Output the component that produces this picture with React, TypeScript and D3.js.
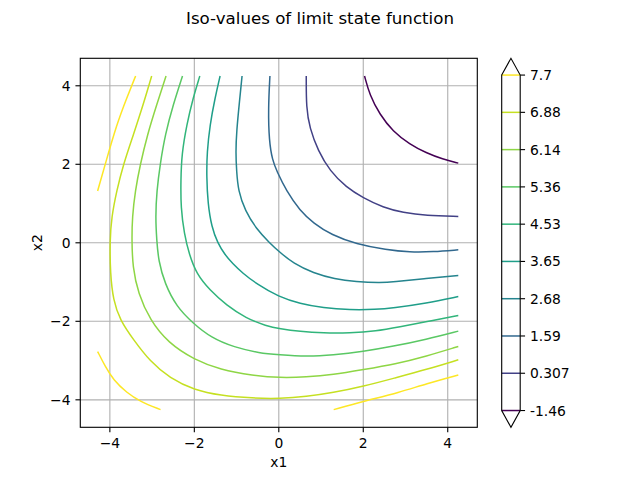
import React from 'react';
import * as d3 from 'd3';

const levels = [-1.46, 0.307, 1.59, 2.68, 3.65, 4.53, 5.36, 6.14, 6.88, 7.7];
const levelLabels = ['-1.46', '0.307', '1.59', '2.68', '3.65', '4.53', '5.36', '6.14', '6.88', '7.7'];
const xTicks = [-4, -2, 0, 2, 4];
const yTicks = [-4, -2, 0, 2, 4];

// Contour lines, as [x1, x2] points
const isoM146 = [[2.03, 4.25], [2.15, 3.77], [2.39, 3.27], [2.7, 2.84], [3.1, 2.51], [3.49, 2.29], [3.88, 2.13], [4.25, 2.03]];
const iso0307 = [[0.65, 4.25], [0.65, 3.43], [0.73, 2.93], [0.93, 2.34], [1.21, 1.83], [1.6, 1.41], [1.99, 1.15], [2.47, 0.9], [2.94, 0.77], [3.49, 0.69], [4.25, 0.67]];
const iso159 = [[-0.21, 4.25], [-0.25, 3.43], [-0.23, 2.59], [-0.15, 2.1], [-0.05, 1.83], [0.18, 1.32], [0.5, 0.82], [0.82, 0.5], [1.25, 0.2], [1.83, -0.03], [2.55, -0.18], [3.1, -0.24], [3.65, -0.23], [4.25, -0.18]];
const iso268 = [[-0.87, 4.25], [-0.93, 3.61], [-1.0, 2.84], [-1.02, 2.3], [-1.0, 1.83], [-0.96, 1.32], [-0.8, 0.82], [-0.53, 0.35], [-0.22, 0.0], [0.0, -0.22], [0.35, -0.53], [0.82, -0.77], [1.32, -0.92], [1.83, -0.99], [2.4, -1.02], [2.7, -1.0], [3.49, -0.91], [4.25, -0.83]];
const iso365 = [[-1.39, 4.25], [-1.51, 3.69], [-1.63, 3.01], [-1.7, 2.3], [-1.71, 1.7], [-1.68, 1.0], [-1.59, 0.4], [-1.45, 0.0], [-1.28, -0.3], [-1.1, -0.52], [-0.85, -0.78], [-0.52, -1.05], [0.0, -1.38], [0.5, -1.55], [1.05, -1.66], [1.68, -1.71], [2.3, -1.7], [2.7, -1.66], [3.49, -1.54], [4.25, -1.37]];
const iso453 = [[-1.87, 4.25], [-2.03, 3.69], [-2.18, 3.01], [-2.3, 2.25], [-2.32, 1.58], [-2.32, 0.9], [-2.24, 0.23], [-2.12, -0.3], [-1.95, -0.79], [-1.63, -1.21], [-1.24, -1.59], [-0.78, -1.92], [-0.29, -2.12], [0.02, -2.19], [0.5, -2.26], [1.05, -2.3], [1.68, -2.3], [2.3, -2.25], [2.86, -2.14], [3.49, -2.01], [4.25, -1.85]];
const iso536 = [[-2.28, 4.25], [-2.5, 3.52], [-2.69, 2.76], [-2.81, 2.0], [-2.89, 1.32], [-2.92, 0.65], [-2.89, 0.06], [-2.85, -0.45], [-2.7, -1.04], [-2.42, -1.63], [-2.04, -2.04], [-1.6, -2.42], [-1.06, -2.66], [-0.45, -2.81], [0.0, -2.85], [0.65, -2.9], [1.28, -2.86], [2.0, -2.77], [2.7, -2.64], [3.49, -2.46], [4.25, -2.25]];
const iso614 = [[-2.67, 4.25], [-2.89, 3.52], [-3.11, 2.76], [-3.28, 2.0], [-3.4, 1.32], [-3.47, 0.65], [-3.48, 0.06], [-3.46, -0.62], [-3.33, -1.29], [-3.05, -1.97], [-2.62, -2.55], [-2.0, -2.98], [-1.39, -3.23], [-0.61, -3.38], [0.02, -3.44], [0.65, -3.42], [1.28, -3.36], [2.0, -3.23], [2.76, -3.09], [3.49, -2.89], [4.25, -2.64]];
const iso688 = [[-3.01, 4.25], [-3.21, 3.52], [-3.44, 2.76], [-3.68, 2.0], [-3.84, 1.32], [-3.96, 0.65], [-4.0, 0.06], [-3.99, -0.79], [-3.92, -1.46], [-3.76, -1.97], [-3.44, -2.47], [-3.05, -3.02], [-2.58, -3.45], [-2.0, -3.75], [-1.39, -3.89], [-0.61, -3.96], [0.02, -3.97], [0.65, -3.92], [1.28, -3.82], [2.0, -3.66], [2.76, -3.44], [3.49, -3.23], [4.25, -2.98]];
const iso77TopLeft = [[-4.29, 1.32], [-4.11, 2.0], [-3.84, 3.01], [-3.6, 3.69], [-3.39, 4.25]];
const iso77BottomLeft = [[-4.29, -2.77], [-4.11, -3.15], [-3.92, -3.49], [-3.6, -3.82], [-3.29, -4.04], [-2.8, -4.25]];
const iso77BottomRight = [[1.3, -4.25], [2.0, -4.04], [2.86, -3.81], [3.49, -3.59], [4.25, -3.37]];

const contourLines = [
  { level: -1.46, pts: isoM146 },
  { level: 0.307, pts: iso0307 },
  { level: 1.59, pts: iso159 },
  { level: 2.68, pts: iso268 },
  { level: 3.65, pts: iso365 },
  { level: 4.53, pts: iso453 },
  { level: 5.36, pts: iso536 },
  { level: 6.14, pts: iso614 },
  { level: 6.88, pts: iso688 },
  { level: 7.7, pts: iso77TopLeft },
  { level: 7.7, pts: iso77BottomLeft },
  { level: 7.7, pts: iso77BottomRight },
];

const W = 640, H = 480;
const left = 80.3, right = 477.3, top = 58.3, bottom = 427.3;
const cbLeft = 501.7, cbRight = 520.2;
const font = 'DejaVu Sans, sans-serif';
const fs = 13.89;

export default function App() {
  const x = d3.scaleLinear().domain([-4.7, 4.7]).range([left, right]);
  const y = d3.scaleLinear().domain([-4.7, 4.7]).range([bottom, top]);
  const color = d3.scaleSequential(d3.interpolateViridis).domain([levels[0], levels[levels.length - 1]]);
  const line = d3.line<number[]>().x(d => x(d[0])).y(d => y(d[1])).curve(d3.curveBasis);

  const extLen = (bottom - top) / 1.1 * 0.05;
  const cbTop = top + extLen, cbBottom = bottom - extLen;
  const cbScale = d3.scalePoint<number>().domain(levels.map((_, i) => i)).range([cbBottom, cbTop]);
  const fmt = (v: number) => (v < 0 ? '\u2212' : '') + Math.abs(v);
  const tick = 4.86;

  return (
    <svg width={W} height={H} style={{ display: 'block', position: 'absolute', left: 0, top: 0 }}>
      <rect width={W} height={H} fill="white" />
      <text x={320} y={24} textAnchor="middle" fontFamily={font} fontSize={16.67}>Iso-values of limit state function</text>
      {/* grid */}
      {xTicks.map(t => (
        <line key={'gx' + t} x1={x(t)} x2={x(t)} y1={top} y2={bottom} stroke="#b0b0b0" strokeWidth={1.11} />
      ))}
      {yTicks.map(t => (
        <line key={'gy' + t} x1={left} x2={right} y1={y(t)} y2={y(t)} stroke="#b0b0b0" strokeWidth={1.11} />
      ))}
      {/* contours */}
      <g fill="none" strokeWidth={1.5}>
        {contourLines.map((c, i) => (
          <path key={'c' + i} d={line(c.pts) || ''} stroke={color(c.level)} />
        ))}
      </g>
      {/* frame */}
      <rect x={left} y={top} width={right - left} height={bottom - top} fill="none" stroke="black" strokeWidth={1.11} />
      {/* x ticks */}
      {xTicks.map(t => (
        <g key={'xt' + t}>
          <line x1={x(t)} x2={x(t)} y1={bottom} y2={bottom + tick} stroke="black" strokeWidth={1.11} />
          <text x={x(t)} y={447.5} textAnchor="middle" fontFamily={font} fontSize={fs}>{fmt(t)}</text>
        </g>
      ))}
      {yTicks.map(t => (
        <g key={'yt' + t}>
          <line x1={left - tick} x2={left} y1={y(t)} y2={y(t)} stroke="black" strokeWidth={1.11} />
          <text x={left - tick - 4.86} y={y(t)} dy="0.36em" textAnchor="end" fontFamily={font} fontSize={fs}>{fmt(t)}</text>
        </g>
      ))}
      <text x={(left + right) / 2} y={467} textAnchor="middle" fontFamily={font} fontSize={fs}>x1</text>
      <text transform={`translate(41.7,${(top + bottom) / 2}) rotate(-90)`} textAnchor="middle" fontFamily={font} fontSize={fs}>x2</text>
      {/* colorbar */}
      <path d={`M${cbLeft},${cbTop} L${(cbLeft + cbRight) / 2},${top} L${cbRight},${cbTop} Z`} fill="white" />
      <path d={`M${cbLeft},${cbBottom} L${(cbLeft + cbRight) / 2},${bottom} L${cbRight},${cbBottom} Z`} fill="white" />
      {levels.map((lv, i) => (
        <line key={'cb' + i} x1={cbLeft} x2={cbRight} y1={cbScale(i)} y2={cbScale(i)} stroke={color(lv)} strokeWidth={1.5} />
      ))}
      <path d={`M${cbLeft},${cbTop} L${(cbLeft + cbRight) / 2},${top} L${cbRight},${cbTop} L${cbRight},${cbBottom} L${(cbLeft + cbRight) / 2},${bottom} L${cbLeft},${cbBottom} Z`} fill="none" stroke="black" strokeWidth={1.11} />
      {levels.map((lv, i) => (
        <g key={'cbt' + i}>
          <line x1={cbRight} x2={cbRight + tick} y1={cbScale(i)} y2={cbScale(i)} stroke="black" strokeWidth={1.11} />
          <text x={cbRight + tick + 4.86} y={cbScale(i)} dy="0.36em" fontFamily={font} fontSize={fs}>{levelLabels[i]}</text>
        </g>
      ))}
    </svg>
  );
}
